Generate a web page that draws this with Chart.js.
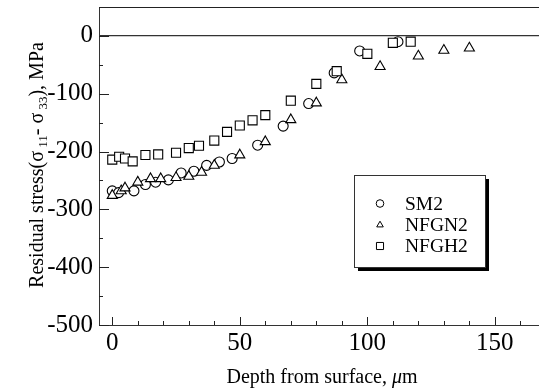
<!DOCTYPE html>
<html><head><meta charset="utf-8">
<script src="https://cdn.jsdelivr.net/npm/chart.js@4"></script>
<style>html,body{margin:0;padding:0;background:#fff;}canvas{display:block;}</style>
</head><body>
<canvas id="c" width="539" height="388"></canvas>
<script>
const seriesNames = ['SM2', 'NFGN2', 'NFGH2'];
const sm2X = [0, 2.5, 8.5, 13, 17, 22, 27, 32, 37, 42, 47, 57, 67, 77, 87, 97, 112];
const sm2Y = [-268, -271, -268, -257, -253, -249, -237, -234, -224, -218, -212, -189, -156, -117, -64, -26, -10];
const nfgn2X = [0, 3.5, 5, 10, 15, 19, 25, 30, 35, 40, 50, 60, 70, 80, 90, 105, 120, 130, 140];
const nfgn2Y = [-276, -268, -263, -253, -247, -247, -245, -243, -236, -224, -206, -183, -145, -116, -76, -53, -35, -25, -21];
const nfgh2X = [0, 2.7, 5, 8, 13, 18, 25, 30, 34, 40, 45, 50, 55, 60, 70, 80, 88, 100, 110, 117];
const nfgh2Y = [-214, -209, -212, -217, -206, -205, -202, -194, -190, -181, -166, -155, -146, -137, -112, -83, -61, -31, -12, -10];
const xTicks = [0, 50, 100, 150];
const yTicks = [-500, -400, -300, -200, -100, 0];

const SERIF = '"Liberation Serif", "Times New Roman", serif';
const pts = (xs, ys) => xs.map((x, i) => ({x: x, y: ys[i]}));
const styles = [
  {pointStyle: 'circle', pointRadius: 5},
  {pointStyle: 'triangle', pointRadius: 5.8},
  {pointStyle: 'rect', pointRadius: 6.4}
];
const dataSets = [pts(sm2X, sm2Y), pts(nfgn2X, nfgn2Y), pts(nfgh2X, nfgh2Y)];

const deco = {
  id: 'deco',
  afterDraw(chart) {
    const ctx = chart.ctx, a = chart.chartArea;
    const xs = chart.scales.x, ys = chart.scales.y;
    ctx.save();
    ctx.strokeStyle = '#222';
    ctx.lineWidth = 1;
    // top border
    ctx.beginPath(); ctx.moveTo(a.left, a.top + 0.5); ctx.lineTo(a.right, a.top + 0.5); ctx.stroke();
    // y ticks
    for (let v = -500; v <= 50; v += 50) {
      const py = Math.round(ys.getPixelForValue(v)) + 0.5;
      const len = (v % 100 === 0) ? 10 : 4;
      ctx.beginPath(); ctx.moveTo(a.left, py); ctx.lineTo(a.left + len, py); ctx.stroke();
    }
    // x ticks
    for (let v = 0; v <= 160; v += 10) {
      const px = Math.round(xs.getPixelForValue(v)) + 0.5;
      const len = (v % 50 === 0) ? 8 : 4;
      ctx.beginPath(); ctx.moveTo(px, a.bottom); ctx.lineTo(px, a.bottom - len); ctx.stroke();
    }
    // legend box with shadow
    const bx = 354, by = 175, bw = 131, bh = 92;
    ctx.fillStyle = '#000';
    ctx.fillRect(bx + 4, by + 4, bw, bh);
    ctx.fillStyle = '#fff';
    ctx.fillRect(bx, by, bw, bh);
    ctx.strokeStyle = '#333';
    ctx.strokeRect(bx + 0.5, by + 0.5, bw, bh);
    ctx.font = '19.5px ' + SERIF;
    ctx.textBaseline = 'middle';
    ctx.textAlign = 'left';
    const rows = [203.5, 225, 246];
    seriesNames.forEach((n, i) => {
      const st = styles[i];
      const rr = st.pointStyle === 'rect' ? 5 : 3.8;
      ctx.fillStyle = '#fff';
      ctx.strokeStyle = '#000';
      ctx.lineWidth = 1;
      Chart.helpers.drawPoint(ctx, {pointStyle: st.pointStyle, radius: rr, borderWidth: 1, rotation: 0}, 380, rows[i]);
      ctx.fillStyle = '#000';
      ctx.fillText(n, 405, rows[i] + 1);
    });
    // x title
    ctx.fillStyle = '#000';
    ctx.textBaseline = 'alphabetic';
    const p1 = 'Depth from surface, ';
    ctx.font = '20px ' + SERIF;
    const w1 = ctx.measureText(p1).width;
    ctx.font = 'italic 20px ' + SERIF;
    const w2 = ctx.measureText('\u03bc').width;
    ctx.font = '20px ' + SERIF;
    const w3 = ctx.measureText('m').width;
    let sx = 322 - (w1 + w2 + w3) / 2;
    ctx.fillText(p1, sx, 383); sx += w1;
    ctx.font = 'italic 20px ' + SERIF;
    ctx.fillText('\u03bc', sx, 383); sx += w2;
    ctx.font = '20px ' + SERIF;
    ctx.fillText('m', sx, 383);
    // y title (rotated, with subscripts)
    const segs = [
      {t: 'Residual stress(', f: '20px ' + SERIF, dy: 0},
      {t: '\u03c3', f: '20px ' + SERIF, dy: 0},
      {t: ' 11', f: '13px ' + SERIF, dy: 4},
      {t: '- ', f: '20px ' + SERIF, dy: 0},
      {t: '\u03c3', f: '20px ' + SERIF, dy: 0},
      {t: ' 33', f: '13px ' + SERIF, dy: 4},
      {t: '), MPa', f: '20px ' + SERIF, dy: 0}
    ];
    let tot = 0;
    segs.forEach(s => { ctx.font = s.f; s.w = ctx.measureText(s.t).width; tot += s.w; });
    ctx.translate(43, 165);
    ctx.rotate(-Math.PI / 2);
    let tx = -tot / 2;
    segs.forEach(s => { ctx.font = s.f; ctx.fillText(s.t, tx, s.dy); tx += s.w; });
    ctx.restore();
  }
};

new Chart(document.getElementById('c'), {
  type: 'scatter',
  data: {
    datasets: seriesNames.map((n, i) => ({
      label: n,
      data: dataSets[i],
      pointStyle: styles[i].pointStyle,
      pointRadius: styles[i].pointRadius,
      pointBorderWidth: 1.1,
      borderColor: '#000',
      backgroundColor: '#fff',
      pointBackgroundColor: '#fff',
      pointBorderColor: '#000',
      showLine: false,
      order: 3 - i
    }))
  },
  options: {
    responsive: false,
    animation: false,
    devicePixelRatio: 1,
    layout: {autoPadding: false, padding: {top: 7, right: 0, left: 0, bottom: 0}},
    plugins: {legend: {display: false}, tooltip: {enabled: false}},
    scales: {
      x: {
        type: 'linear', min: -5.2, max: 167.3,
        afterBuildTicks: s => { s.ticks = xTicks.map(v => ({value: v})); },
        afterFit: s => { s.height = 63; s.paddingLeft = 0; s.paddingRight = 0; },
        grid: {display: false, drawTicks: false},
        border: {display: true, color: '#333', width: 1},
        ticks: {color: '#000', font: {family: SERIF, size: 25}, padding: 3, maxRotation: 0, autoSkip: false}
      },
      y: {
        type: 'linear', min: -500, max: 50,
        afterBuildTicks: s => { s.ticks = yTicks.map(v => ({value: v})); },
        afterFit: s => { s.width = 99; s.paddingTop = 0; s.paddingBottom = 0; },
        grid: {display: true, drawTicks: false, color: c => (c.tick && c.tick.value === 0) ? '#333' : 'rgba(0,0,0,0)', lineWidth: 1.3},
        border: {display: true, color: '#333', width: 1},
        ticks: {color: '#000', font: {family: SERIF, size: 25}, padding: 6, autoSkip: false}
      }
    }
  },
  plugins: [deco]
});
</script>
</body></html>
